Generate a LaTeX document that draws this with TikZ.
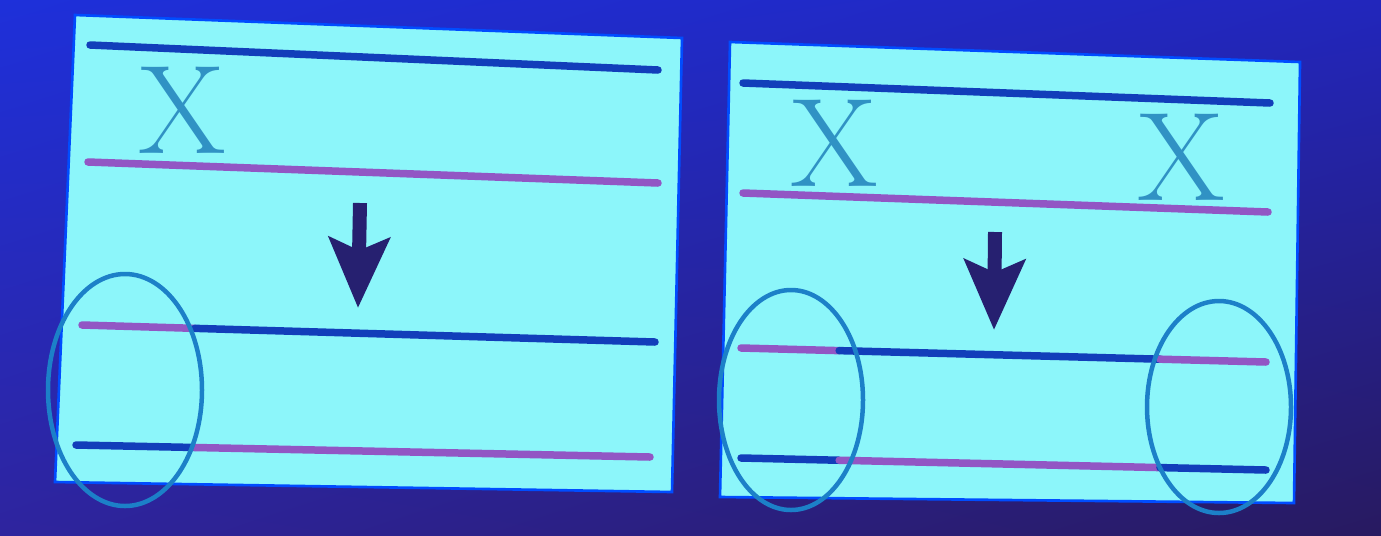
\documentclass[tikz,border=0pt]{standalone}
\definecolor{bgul}{RGB}{30,48,218}
\definecolor{bgur}{RGB}{34,38,188}
\definecolor{bgll}{RGB}{46,36,158}
\definecolor{bglr}{RGB}{40,26,96}
\definecolor{panelcyan}{RGB}{140,246,250}
\definecolor{lineblue}{RGB}{18,62,186}
\definecolor{linepurple}{RGB}{146,86,196}
\definecolor{markteal}{RGB}{48,146,196}
\definecolor{ringblue}{RGB}{28,128,200}
\definecolor{arrownavy}{RGB}{38,32,112}
\usepackage{tikz}
\usetikzlibrary{arrows.meta,calc,shadings}

\begin{document}
\begin{tikzpicture}[x=0.02cm, y=-0.02cm,
    panel/.style={fill=panelcyan, draw=blue!70!cyan, line width=1.5pt},
    bl/.style={lineblue, line width=0.15cm, line cap=round},
    pl/.style={linepurple, line width=0.15cm, line cap=round},
    ring/.style={ringblue, line width=0.09cm},
    crossing/.style={text=markteal, inner sep=0pt, font=\fontsize{72}{72}\selectfont},
    down/.style={arrownavy, line width=0.28cm,
        -{Stealth[length=1.4cm, width=1.2cm, inset=0.25cm]}}]
    % slide background
    \shade[upper left=bgul, upper right=bgur, lower left=bgll, lower right=bglr]
        (0,0) rectangle (1381,535);
    \useasboundingbox (0,0) rectangle (1381,535);

    % left panel
    \draw[panel] (75,15) -- (682,38) -- (672,492) -- (55,482) -- cycle;
    \coordinate (la1) at (90,45);   \coordinate (lb1) at (658,70);
    \coordinate (la2) at (88,162);  \coordinate (lb2) at (658,183);
    \coordinate (la3) at (82,325);  \coordinate (lb3) at (655,342);
    \coordinate (la4) at (76,445);  \coordinate (lb4) at (650,457);
    \draw[bl] (la1) -- (lb1);
    \draw[pl] (la2) -- (lb2);
    \node[crossing] (lx) at (182,110) {X};
    \draw[pl] (la3) -- ($(la3)!0.197!(lb3)$);
    \draw[bl] ($(la3)!0.197!(lb3)$) -- (lb3);
    \draw[bl] (la4) -- ($(la4)!0.207!(lb4)$);
    \draw[pl] ($(la4)!0.207!(lb4)$) -- (lb4);
    \coordinate (ltop) at (360,203);
    \coordinate (ltip) at (358,308);
    \draw[down] (ltop) -- (ltip);

    % right panel
    \draw[panel] (730,42) -- (1300,62) -- (1294,503) -- (720,497) -- cycle;
    \coordinate (ra1) at (743,83);  \coordinate (rb1) at (1270,103);
    \coordinate (ra2) at (743,193); \coordinate (rb2) at (1268,212);
    \coordinate (ra3) at (741,348); \coordinate (rb3) at (1266,362);
    \coordinate (ra4) at (741,458); \coordinate (rb4) at (1266,470);
    \draw[bl] (ra1) -- (rb1);
    \draw[pl] (ra2) -- (rb2);
    \node[crossing] (rx1) at (834,143) {X};
    \node[crossing] (rx2) at (1181,157) {X};
    \draw[pl] (ra3) -- ($(ra3)!0.187!(rb3)$);
    \draw[bl] ($(ra3)!0.187!(rb3)$) -- ($(ra3)!0.798!(rb3)$);
    \draw[pl] ($(ra3)!0.798!(rb3)$) -- (rb3);
    \draw[bl] (ra4) -- ($(ra4)!0.187!(rb4)$);
    \draw[pl] ($(ra4)!0.187!(rb4)$) -- ($(ra4)!0.798!(rb4)$);
    \draw[bl] ($(ra4)!0.798!(rb4)$) -- (rb4);
    \coordinate (rtop) at (995,232);
    \coordinate (rtip) at (994,330);
    \draw[down] (rtop) -- (rtip);

    % circled ends
    \draw[ring] (125,390) ellipse [x radius=77, y radius=116];
    \draw[ring] (791,400) ellipse [x radius=72, y radius=110];
    \draw[ring] (1219,407) ellipse [x radius=72, y radius=106];
\end{tikzpicture}
\end{document}
